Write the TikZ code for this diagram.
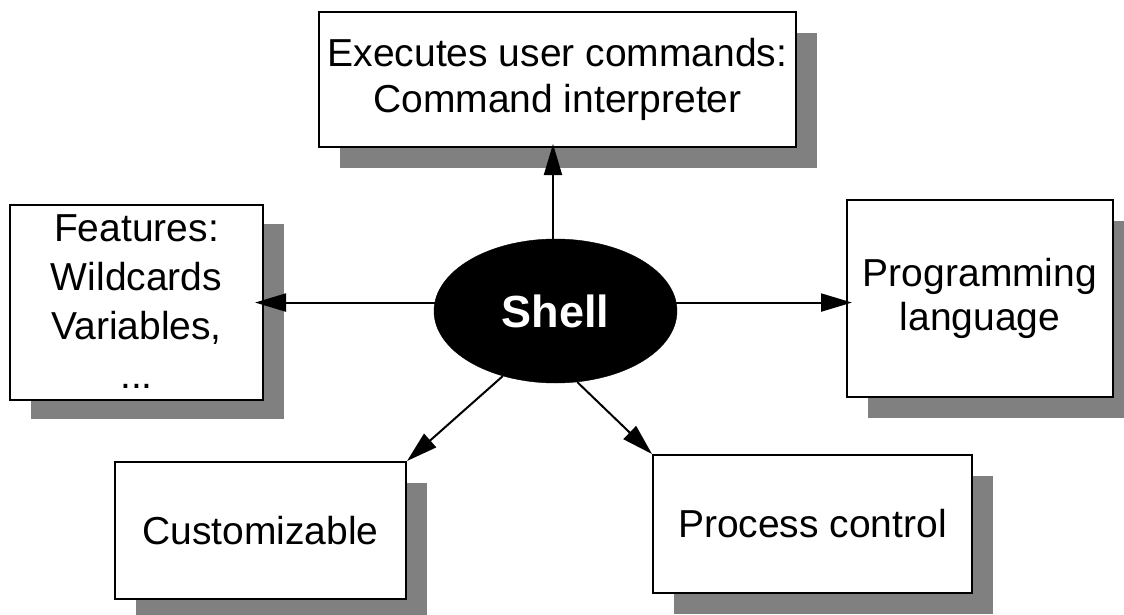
\documentclass[tikz,border=0pt]{standalone}
\usepackage{fontspec}
\setmainfont{Liberation Sans}
\usetikzlibrary{arrows.meta,shapes.geometric}
\definecolor{shadowgray}{RGB}{128,128,128}
\tikzset{
  box/.style={draw=black, line width=2pt, fill=white, rectangle, inner sep=2pt,
    align=center, font=\fontsize{39}{46}\selectfont},
  shadowbox/.style={fill=shadowgray, draw=none, rectangle, inner sep=0pt},
  conn/.style={line width=2pt, -{Triangle[length=31pt,width=18pt]}},
}
\begin{document}
\begin{tikzpicture}[x=1pt,y=1pt]
\useasboundingbox (0,0) rectangle (1124,-615);
% shadows
\node[shadowbox, minimum width=477pt, minimum height=135pt] (topS) at (578.5,-100.5) {};
\node[shadowbox, minimum width=253pt, minimum height=195pt] (featS) at (157.5,-321.5) {};
\node[shadowbox, minimum width=266pt, minimum height=197pt] (progS) at (1001,-319.5) {};
\node[shadowbox, minimum width=291pt, minimum height=137pt] (custS) at (281.5,-551.5) {};
\node[shadowbox, minimum width=319pt, minimum height=138pt] (procS) at (833.5,-545) {};
% boxes
\node[box, minimum width=477pt, minimum height=135pt] (top) at (557.5,-79.5) {Executes user commands:\\Command interpreter};
\node[box, minimum width=253pt, minimum height=195pt, font=\fontsize{39}{49}\selectfont] (feat) at (136.5,-302) {Features:\\Wildcards\\Variables,\\...};
\node[box, minimum width=266pt, minimum height=197pt, font=\fontsize{39}{44}\selectfont] (prog) at (980,-298.5) {Programming\\language};
\node[box, minimum width=291pt, minimum height=137pt] (cust) at (260.5,-530.5) {Customizable};
\node[box, minimum width=319pt, minimum height=138pt] (proc) at (812.5,-524) {Process control};
% central ellipse
\node[ellipse, fill=black, draw=black, inner sep=0pt, minimum width=243pt, minimum height=144pt,
  text=white, font=\fontsize{45}{54}\selectfont\bfseries] (shell) at (555.5,-311) {Shell};
% connectors
\draw[conn, shorten >=-4pt] (shell.92) -- (shell.92 |- top.south);
\draw[conn, shorten >=-9pt] (shell.176) -- (shell.176 -| feat.east);
\draw[conn, shorten >=-6pt] (shell.4) -- (shell.4 -| prog.west);
\draw[conn] (shell.231) -- (cust.north east);
\draw[conn] (shell.287) -- (proc.north west);
\end{tikzpicture}
\end{document}
